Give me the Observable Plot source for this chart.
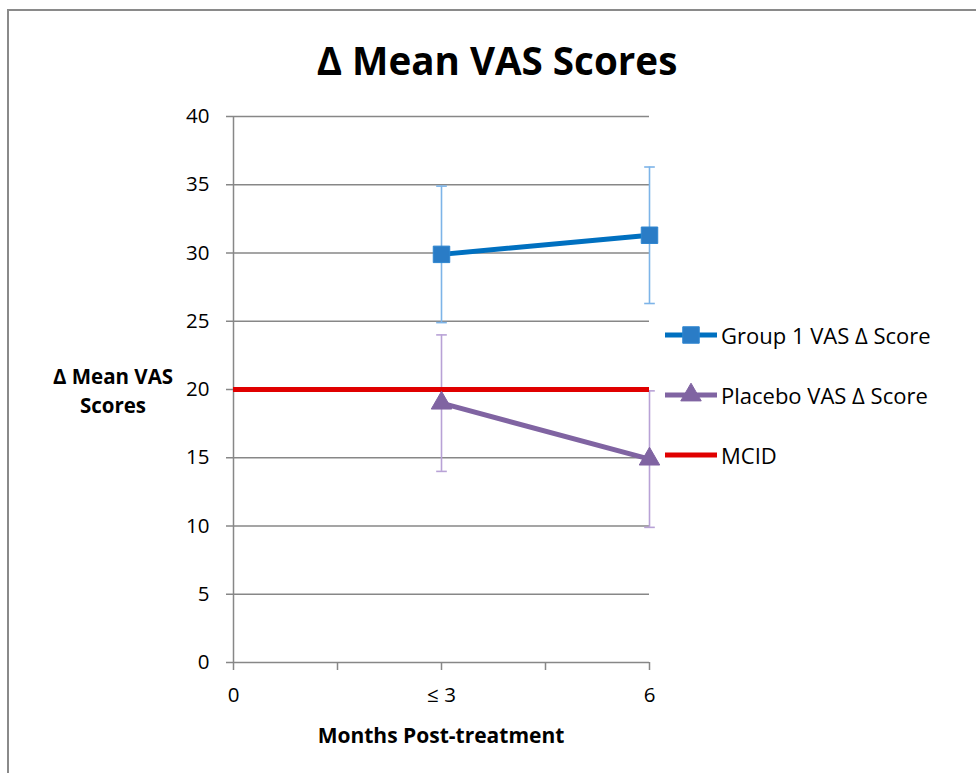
<!DOCTYPE html>
<html>
<head>
<meta charset="utf-8">
<script src="https://cdn.jsdelivr.net/npm/d3@7"></script>
<script src="https://cdn.jsdelivr.net/npm/@observablehq/plot@0.6"></script>
<style>
  html, body { margin: 0; padding: 0; background: #fff; overflow: hidden; }
  #wrap { position: relative; width: 976px; height: 773px; font-family: "Open Sans", Lato, sans-serif; color: #000; }
  #frame { position: absolute; left: 7px; top: 9px; width: 1100px; height: 900px; border-left: 2px solid #8a8a8a; border-top: 2px solid #8a8a8a; }
  #title { position: absolute; left: 0; width: 994px; top: 35px; text-align: center; font-weight: bold; font-size: 38.6px; line-height: 50px; }
  #ylab { position: absolute; left: 28px; width: 170px; top: 362px; text-align: center; font-weight: bold; font-size: 20.5px; line-height: 29px; }
  #xlab { position: absolute; left: 241px; width: 400px; top: 721px; text-align: center; font-weight: bold; font-size: 21px; line-height: 28px; }
  #chart { position: absolute; left: 0; top: 0; }
  #legend { position: absolute; left: 665px; top: 0; }
  .li { position: absolute; left: 0; display: flex; align-items: center; white-space: nowrap; font-size: 22px; }
  .li svg { display: block; margin-right: 4px; }
</style>
</head>
<body>
<div id="wrap">
  <div id="frame"></div>
  <div id="chart"></div>
  <div id="title">Δ Mean VAS Scores</div>
  <div id="ylab">Δ Mean VAS<br>Scores</div>
  <div id="xlab">Months Post-treatment</div>
  <div id="legend"></div>
</div>
<script>
// ---- data ----
const months = [3, 6];                       // "≤ 3" and "6" months
const xTickValues = [0, 3, 6];
const xTickLabels = ["0", "≤ 3", "6"];
const yTickValues = [0, 5, 10, 15, 20, 25, 30, 35, 40];
const group1 = [29.9, 31.3];
const group1Err = [5, 5];
const placebo = [19.0, 14.9];
const placeboErr = [5, 5];
const mcid = 20;
const seriesNames = ["Group 1 VAS Δ Score", "Placebo VAS Δ Score", "MCID"];

// ---- styles ----
const blue = "#0070c0", blueMarker = "#2a7cc6", blueErr = "#7db4e8";
const purple = "#8064a2", purpleErr = "#b8a2d6";
const red = "#e00000";
const grid = "#878787";

const g1 = months.map((m, i) => ({x: m, y: group1[i], e: group1Err[i]}));
const pl = months.map((m, i) => ({x: m, y: placebo[i], e: placeboErr[i]}));
const labelMap = new Map(xTickValues.map((v, i) => [v, xTickLabels[i]]));
const minorTicks = d3.pairs(xTickValues).map(([a, b]) => (a + b) / 2);
const allXTicks = [...xTickValues, ...minorTicks].sort((a, b) => a - b);

const capSymbol = {draw(ctx, size) { const r = Math.sqrt(size) / 2; ctx.moveTo(-r, 0); ctx.lineTo(r, 0); }};

const plot = Plot.plot({
  width: 976, height: 773,
  marginLeft: 233, marginRight: 327, marginTop: 116, marginBottom: 111,
  x: {type: "linear", domain: [0, 6]},
  y: {domain: [0, 40]},
  style: {fontFamily: "'Open Sans', Lato, sans-serif", fontSize: "20.5px", color: "#000", overflow: "visible", background: "transparent"},
  marks: [
    Plot.ruleY(yTickValues.filter(d => d > 0), {stroke: grid, strokeWidth: 1.5}),
    Plot.ruleX([0], {y1: 0, y2: 40, stroke: grid, strokeWidth: 1.5}),
    Plot.ruleY([0], {stroke: grid, strokeWidth: 1.5}),
    Plot.axisY({ticks: yTickValues, tickSize: 7, tickPadding: 17, stroke: grid, strokeWidth: 1.5, fill: "#000", label: null}),
    Plot.axisX({ticks: allXTicks, tickSize: 8, tickPadding: 17, stroke: grid, strokeWidth: 1.5, fill: "#000", label: null,
      tickFormat: d => labelMap.get(d) ?? ""}),
    // error bars
    Plot.ruleX(g1, {x: "x", y1: d => d.y - d.e, y2: d => d.y + d.e, stroke: blueErr, strokeWidth: 1.6}),
    Plot.dot(g1.flatMap(d => [{x: d.x, y: d.y - d.e}, {x: d.x, y: d.y + d.e}]), {x: "x", y: "y", symbol: capSymbol, r: 6, stroke: blueErr, strokeWidth: 1.6}),
    Plot.ruleX(pl, {x: "x", y1: d => d.y - d.e, y2: d => d.y + d.e, stroke: purpleErr, strokeWidth: 1.6}),
    Plot.dot(pl.flatMap(d => [{x: d.x, y: d.y - d.e}, {x: d.x, y: d.y + d.e}]), {x: "x", y: "y", symbol: capSymbol, r: 6, stroke: purpleErr, strokeWidth: 1.6}),
    // MCID
    Plot.ruleY([mcid], {x1: 0, x2: 6, stroke: red, strokeWidth: 5}),
    // series
    Plot.line(g1, {x: "x", y: "y", stroke: blue, strokeWidth: 5}),
    Plot.dot(g1, {x: "x", y: "y", symbol: "square", r: 9.3, fill: blueMarker, stroke: "#2f86d0", strokeWidth: 1}),
    Plot.line(pl, {x: "x", y: "y", stroke: purple, strokeWidth: 5}),
    Plot.dot(pl, {x: "x", y: "y", symbol: "triangle", r: 7.6, fill: purple, stroke: purple, strokeWidth: 1})
  ]
});
document.getElementById("chart").appendChild(plot);

// ---- legend ----
const legend = d3.select("#legend");
const items = [
  {name: seriesNames[0], color: blue, sym: "square", fill: blueMarker, top: 335},
  {name: seriesNames[1], color: purple, sym: "triangle", fill: purple, top: 395},
  {name: seriesNames[2], color: red, sym: null, fill: null, top: 455}
];
items.forEach(it => {
  const row = legend.append("div").attr("class", "li").style("top", (it.top - 15) + "px").style("height", "30px");
  const svg = row.append("svg").attr("width", 52).attr("height", 30);
  svg.append("line").attr("x1", 0).attr("x2", 52).attr("y1", 15).attr("y2", 15).attr("stroke", it.color).attr("stroke-width", 5);
  if (it.sym) {
    const type = it.sym === "square" ? d3.symbolSquare : d3.symbolTriangle;
    const size = it.sym === "square" ? 9.3 * 9.3 * Math.PI : 7.6 * 7.6 * Math.PI;
    svg.append("path").attr("transform", "translate(26,15)").attr("d", d3.symbol(type, size)()).attr("fill", it.fill).attr("stroke", it.sym === "square" ? "#2f86d0" : it.fill);
  }
  row.append("span").text(it.name);
});
</script>
</body>
</html>
